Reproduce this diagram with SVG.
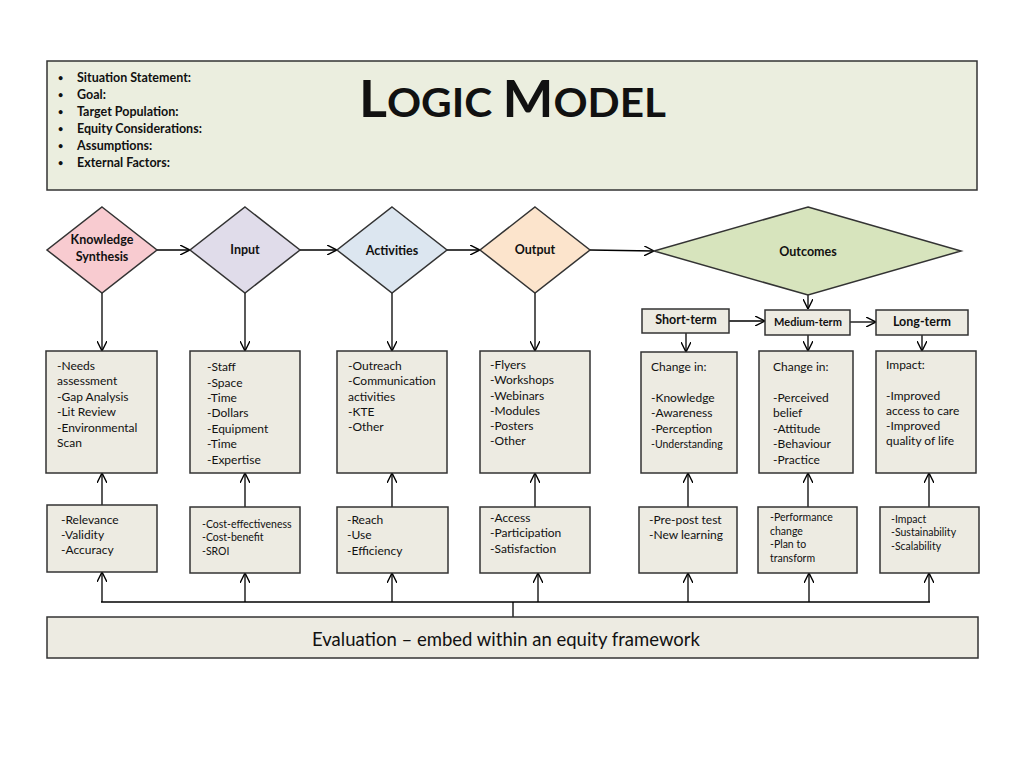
<svg xmlns="http://www.w3.org/2000/svg" width="1024" height="768" viewBox="0 0 1024 768">
<defs>
<marker id="ah" viewBox="0 0 10 10" refX="10" refY="5" markerWidth="10" markerHeight="10" markerUnits="userSpaceOnUse" orient="auto">
<path d="M0,0 L10,5 L0,10" fill="none" stroke="#000" stroke-width="1.4"/>
</marker>
</defs>
<style>
text{font-family:Lato,"Liberation Sans",sans-serif;fill:#111}
.b{font-weight:bold}
.box{fill:#edebe2;stroke:#333;stroke-width:1.5}
.t{font-size:12px}
.s{font-size:10.5px}
.lbl{font-size:12.5px;font-weight:bold;text-anchor:middle}
.c{stroke:#000;stroke-width:1.3;fill:none}
.d{stroke:#333;stroke-width:1.5}
.bul{font-size:9px}
</style>
<rect width="1024" height="768" fill="#fff"/>

<g id="header">
<rect x="47" y="61" width="930" height="129" fill="#ebeedf" stroke="#333" stroke-width="1.5"/>
<g class="b" font-size="12.5">
<text class="bul" x="58" y="81">•</text><text x="77" y="82">Situation Statement:</text>
<text class="bul" x="58" y="98">•</text><text x="77" y="99">Goal:</text>
<text class="bul" x="58" y="115">•</text><text x="77" y="116">Target Population:</text>
<text class="bul" x="58" y="132">•</text><text x="77" y="133">Equity Considerations:</text>
<text class="bul" x="58" y="149">•</text><text x="77" y="150">Assumptions:</text>
<text class="bul" x="58" y="166">•</text><text x="77" y="167">External Factors:</text>
</g>
<text x="359" y="117" class="b" textLength="307" lengthAdjust="spacingAndGlyphs"><tspan font-size="51">L</tspan><tspan font-size="40">OGIC </tspan><tspan font-size="51">M</tspan><tspan font-size="40">ODEL</tspan></text>
</g>

<g id="connectors">
<line class="c" x1="157" y1="250" x2="190" y2="250" marker-end="url(#ah)"/>
<line class="c" x1="300" y1="250" x2="337" y2="250" marker-end="url(#ah)"/>
<line class="c" x1="447" y1="250" x2="480" y2="250" marker-end="url(#ah)"/>
<line class="c" x1="590" y1="250" x2="654" y2="251" marker-end="url(#ah)"/>
<line class="c" x1="808" y1="295" x2="808" y2="309" marker-end="url(#ah)"/>
<line class="c" x1="729" y1="321" x2="765" y2="321" marker-end="url(#ah)"/>
<line class="c" x1="850" y1="322" x2="876" y2="322" marker-end="url(#ah)"/>
<line class="c" x1="102" y1="293" x2="102" y2="351" marker-end="url(#ah)"/>
<line class="c" x1="245" y1="293" x2="245" y2="351" marker-end="url(#ah)"/>
<line class="c" x1="392" y1="293" x2="392" y2="351" marker-end="url(#ah)"/>
<line class="c" x1="535" y1="293" x2="535" y2="351" marker-end="url(#ah)"/>
<line class="c" x1="686" y1="333" x2="686" y2="352" marker-end="url(#ah)"/>
<line class="c" x1="808" y1="335" x2="808" y2="351" marker-end="url(#ah)"/>
<line class="c" x1="922" y1="335" x2="922" y2="351" marker-end="url(#ah)"/>
<line class="c" x1="102" y1="505" x2="102" y2="473" marker-end="url(#ah)"/>
<line class="c" x1="245" y1="507" x2="245" y2="473" marker-end="url(#ah)"/>
<line class="c" x1="392" y1="507" x2="392" y2="473" marker-end="url(#ah)"/>
<line class="c" x1="535" y1="507" x2="535" y2="473" marker-end="url(#ah)"/>
<line class="c" x1="688" y1="507" x2="688" y2="473" marker-end="url(#ah)"/>
<line class="c" x1="808" y1="507" x2="808" y2="473" marker-end="url(#ah)"/>
<line class="c" x1="929" y1="507" x2="929" y2="473" marker-end="url(#ah)"/>
<line class="c" x1="101" y1="602" x2="930" y2="602"/>
<line class="c" x1="102" y1="602" x2="102" y2="572" marker-end="url(#ah)"/>
<line class="c" x1="245" y1="602" x2="245" y2="573" marker-end="url(#ah)"/>
<line class="c" x1="392" y1="602" x2="392" y2="573" marker-end="url(#ah)"/>
<line class="c" x1="538" y1="602" x2="538" y2="573" marker-end="url(#ah)"/>
<line class="c" x1="688" y1="602" x2="688" y2="573" marker-end="url(#ah)"/>
<line class="c" x1="809" y1="602" x2="809" y2="573" marker-end="url(#ah)"/>
<line class="c" x1="929" y1="602" x2="929" y2="573" marker-end="url(#ah)"/>
<line class="c" x1="513" y1="602" x2="513" y2="617"/>
</g>

<g id="knowledge-synthesis">
<polygon class="d" points="102,207 157,250 102,293 47,250" fill="#f8cbd0"/>
<text class="lbl" x="102" y="244">Knowledge</text>
<text class="lbl" x="102" y="261">Synthesis</text>
</g>
<g id="input">
<polygon class="d" points="245,207 300,250 245,293 190,250" fill="#e0dcea"/>
<text class="lbl" x="245" y="254">Input</text>
</g>
<g id="activities">
<polygon class="d" points="392,207 447,250 392,293 337,250" fill="#dce6f0"/>
<text class="lbl" x="392" y="255">Activities</text>
</g>
<g id="output">
<polygon class="d" points="535,207 590,250 535,293 480,250" fill="#fce4cc"/>
<text class="lbl" x="535" y="254">Output</text>
</g>
<g id="outcomes">
<polygon class="d" points="808,207 961,251 808,295 654,251" fill="#d7e4bd"/>
<text class="lbl" x="808" y="256">Outcomes</text>
</g>

<g id="short-term">
<rect class="box" x="642" y="309" width="87" height="24"/>
<text class="lbl" x="686" y="324">Short-term</text>
</g>
<g id="medium-term">
<rect class="box" x="765" y="310" width="85" height="25"/>
<text class="lbl" style="font-size:11px" x="808" y="326">Medium-term</text>
</g>
<g id="long-term">
<rect class="box" x="876" y="310" width="92" height="25"/>
<text class="lbl" x="922" y="326">Long-term</text>
</g>

<g id="ks-detail">
<rect class="box" x="46" y="351" width="111" height="122"/>
<text class="t" x="57" y="370">-Needs</text>
<text class="t" x="57" y="385">assessment</text>
<text class="t" x="57" y="401">-Gap Analysis</text>
<text class="t" x="57" y="416">-Lit Review</text>
<text class="t" x="57" y="432">-Environmental</text>
<text class="t" x="57" y="447">Scan</text>
</g>
<g id="input-detail">
<rect class="box" x="190" y="351" width="110" height="122"/>
<text class="t" x="207" y="371">-Staff</text>
<text class="t" x="207" y="387">-Space</text>
<text class="t" x="207" y="402">-Time</text>
<text class="t" x="207" y="417">-Dollars</text>
<text class="t" x="207" y="433">-Equipment</text>
<text class="t" x="207" y="448">-Time</text>
<text class="t" x="207" y="464">-Expertise</text>
</g>
<g id="activities-detail">
<rect class="box" x="337" y="351" width="110" height="122"/>
<text class="t" x="348" y="370">-Outreach</text>
<text class="t" x="348" y="385">-Communication</text>
<text class="t" x="348" y="401">activities</text>
<text class="t" x="348" y="416">-KTE</text>
<text class="t" x="348" y="431">-Other</text>
</g>
<g id="output-detail">
<rect class="box" x="480" y="351" width="110" height="122"/>
<text class="t" x="490" y="369">-Flyers</text>
<text class="t" x="490" y="384">-Workshops</text>
<text class="t" x="490" y="400">-Webinars</text>
<text class="t" x="490" y="415">-Modules</text>
<text class="t" x="490" y="430">-Posters</text>
<text class="t" x="490" y="445">-Other</text>
</g>
<g id="short-detail">
<rect class="box" x="641" y="352" width="96" height="121"/>
<text class="t" x="651" y="371">Change in:</text>
<text class="t" x="651" y="402">-Knowledge</text>
<text class="t" x="651" y="417">-Awareness</text>
<text class="t" x="651" y="433">-Perception</text>
<text class="s" x="651" y="448">-Understanding</text>
</g>
<g id="medium-detail">
<rect class="box" x="759" y="351" width="94" height="122"/>
<text class="t" x="773" y="371">Change in:</text>
<text class="t" x="773" y="402">-Perceived</text>
<text class="t" x="773" y="417">belief</text>
<text class="t" x="773" y="433">-Attitude</text>
<text class="t" x="773" y="448">-Behaviour</text>
<text class="t" x="773" y="464">-Practice</text>
</g>
<g id="long-detail">
<rect class="box" x="876" y="351" width="100" height="122"/>
<text class="t" x="886" y="369">Impact:</text>
<text class="t" x="886" y="400">-Improved</text>
<text class="t" x="886" y="415">access to care</text>
<text class="t" x="886" y="430">-Improved</text>
<text class="t" x="886" y="445">quality of life</text>
</g>

<g id="ks-eval">
<rect class="box" x="47" y="505" width="110" height="67"/>
<text class="t" x="61" y="524">-Relevance</text>
<text class="t" x="61" y="539">-Validity</text>
<text class="t" x="61" y="554">-Accuracy</text>
</g>
<g id="input-eval">
<rect class="box" x="190" y="507" width="110" height="66"/>
<text class="s" x="202" y="528">-Cost-effectiveness</text>
<text class="s" x="202" y="541">-Cost-benefit</text>
<text class="s" x="202" y="555">-SROI</text>
</g>
<g id="activities-eval">
<rect class="box" x="337" y="507" width="111" height="66"/>
<text class="t" x="347" y="524">-Reach</text>
<text class="t" x="347" y="539">-Use</text>
<text class="t" x="347" y="555">-Efficiency</text>
</g>
<g id="output-eval">
<rect class="box" x="480" y="507" width="110" height="66"/>
<text class="t" x="490" y="522">-Access</text>
<text class="t" x="490" y="537">-Participation</text>
<text class="t" x="490" y="553">-Satisfaction</text>
</g>
<g id="short-eval">
<rect class="box" x="639" y="507" width="98" height="66"/>
<text class="t" x="649" y="524">-Pre-post test</text>
<text class="t" x="649" y="539">-New learning</text>
</g>
<g id="medium-eval">
<rect class="box" x="758" y="507" width="99" height="66"/>
<text class="s" x="770" y="521">-Performance</text>
<text class="s" x="770" y="535">change</text>
<text class="s" x="770" y="548">-Plan to</text>
<text class="s" x="770" y="562">transform</text>
</g>
<g id="long-eval">
<rect class="box" x="880" y="507" width="99" height="66"/>
<text class="s" x="891" y="523">-Impact</text>
<text class="s" x="891" y="536">-Sustainability</text>
<text class="s" x="891" y="550">-Scalability</text>
</g>

<g id="evaluation">
<rect class="box" x="47" y="617" width="931" height="41"/>
<text x="506" y="646" font-size="18.5" text-anchor="middle">Evaluation – embed within an equity framework</text>
</g>
</svg>
